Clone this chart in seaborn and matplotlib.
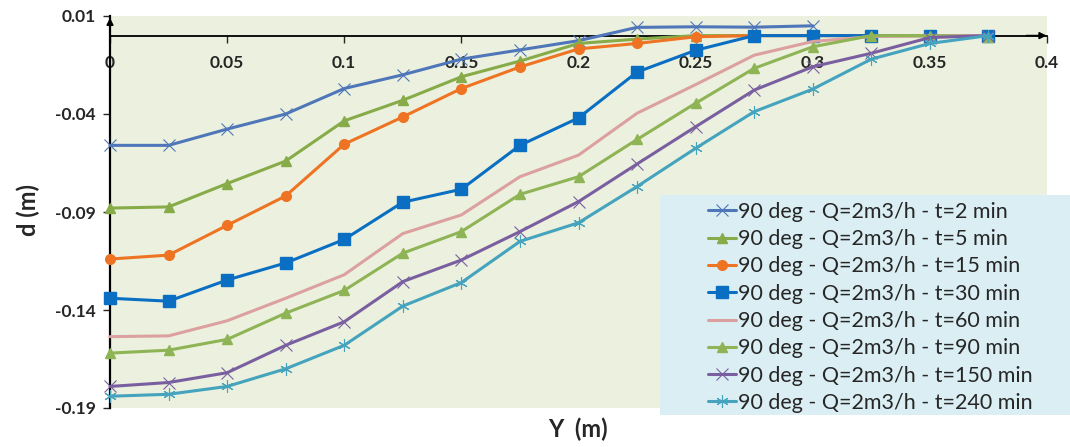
import numpy as np
import pandas as pd
import seaborn as sns
import matplotlib
matplotlib.use("Agg")
import matplotlib.pyplot as plt
from matplotlib.patches import Rectangle

# Transverse position Y (m) of each measuring station
y_pos = [0.0, 0.025, 0.05, 0.075, 0.1, 0.125, 0.15, 0.175, 0.2,
         0.225, 0.25, 0.275, 0.3, 0.325, 0.35, 0.375]

# Scour depth d (m) at each station, one profile per elapsed time
d_t2 = [-0.056, -0.056, -0.0477, -0.040, -0.027, -0.020, -0.012, -0.0073,
        -0.0026, 0.0042, 0.0045, 0.0043, 0.005]
d_t5 = [-0.088, -0.0874, -0.0755, -0.064, -0.0435, -0.033, -0.021, -0.013,
        -0.004, -0.0018, 0.0, 0.0, 0.0, 0.0, 0.0, 0.0]
d_t15 = [-0.114, -0.112, -0.0968, -0.0818, -0.0554, -0.0415, -0.027, -0.016,
         -0.0068, -0.004, -0.0006, 0.0, 0.0, 0.0, 0.0, 0.0]
d_t30 = [-0.134, -0.1355, -0.1247, -0.116, -0.104, -0.085, -0.0784, -0.056,
         -0.042, -0.0186, -0.0075, 0.0, 0.0, 0.0, 0.0, 0.0]
d_t60 = [-0.1536, -0.1532, -0.1455, -0.134, -0.122, -0.101, -0.0915, -0.072,
         -0.061, -0.0396, -0.025, -0.010, -0.003, -0.0005, 0.0, 0.0]
d_t90 = [-0.162, -0.1605, -0.155, -0.1416, -0.130, -0.111, -0.100, -0.081,
         -0.072, -0.053, -0.0345, -0.0167, -0.0057, 0.0, 0.0, -0.0005]
d_t150 = [-0.179, -0.177, -0.172, -0.158, -0.146, -0.1255, -0.1145, -0.100,
          -0.0847, -0.0655, -0.0465, -0.0278, -0.0159, -0.009, -0.001, 0.0]
d_t240 = [-0.184, -0.183, -0.179, -0.170, -0.158, -0.138, -0.126, -0.105,
          -0.0955, -0.077, -0.0575, -0.0388, -0.0273, -0.012, -0.004, 0.0]

labels = [
    "90 deg - Q=2m3/h - t=2 min",
    "90 deg - Q=2m3/h - t=5 min",
    "90 deg - Q=2m3/h - t=15 min",
    "90 deg - Q=2m3/h - t=30 min",
    "90 deg - Q=2m3/h - t=60 min",
    "90 deg - Q=2m3/h - t=90 min",
    "90 deg - Q=2m3/h - t=150 min",
    "90 deg - Q=2m3/h - t=240 min",
]
profiles = [d_t2, d_t5, d_t15, d_t30, d_t60, d_t90, d_t150, d_t240]

colors = ["#4F76B8", "#86AB48", "#EE7424", "#0A6FC2",
          "#DDA0A0", "#8FB455", "#7A5FA0", "#45A3BE"]
markers = ["x", "^", "o", "s", None, "^", "x", (6, 2, 0)]
msizes = [8, 7, 7, 8.5, 0, 7, 8, 9]
mews = [0.8, 1.0, 1.0, 1.0, 0, 1.0, 0.8, 0.8]

x_ticks = [0, 0.05, 0.1, 0.15, 0.2, 0.25, 0.3, 0.35, 0.4]
x_ticklabels = ["0", "0.05", "0.1", "0.15", "0.2", "0.25", "0.3", "0.35", "0.4"]
y_ticks = [0.01, -0.04, -0.09, -0.14, -0.19]
y_ticklabels = ["0.01", "-0.04", "-0.09", "-0.14", "-0.19"]

sns.set_style("white")
plt.rcParams["font.family"] = ["Lato", "DejaVu Sans"]

fig = plt.figure(figsize=(10.70, 4.47), dpi=100)
ax = fig.add_axes([110 / 1070, 1 - 408 / 447, 937 / 1070, 392 / 447])
ax.set_facecolor("#EBF1DE")

for d, lab, c, m, ms, mew in zip(profiles, labels, colors, markers, msizes, mews):
    df = pd.DataFrame({"Y": y_pos[:len(d)], "d": d})
    sns.lineplot(data=df, x="Y", y="d", ax=ax, color=c, lw=2.2,
                 marker=m, markersize=ms, markeredgewidth=mew,
                 markeredgecolor=c, label=lab, legend=False,
                 clip_on=False, zorder=3)

ax.set_xlim(0, 0.4)
ax.set_ylim(-0.19, 0.01)

# x-axis drawn along d = 0, y-axis on the left
for s in ["top", "right"]:
    ax.spines[s].set_visible(False)
ax.spines["bottom"].set_position(("data", 0))
ax.spines["bottom"].set_color("black")
ax.spines["bottom"].set_linewidth(1.3)
ax.spines["bottom"].set_zorder(2)
ax.spines["left"].set_color("black")
ax.spines["left"].set_linewidth(1.6)

ax.set_xticks(x_ticks, x_ticklabels)
ax.set_yticks(y_ticks, y_ticklabels)
ax.tick_params(axis="x", direction="out", length=5, width=1, pad=9,
               labelsize=12.5, bottom=True)
ax.tick_params(axis="y", direction="out", length=5, width=1, pad=5,
               labelsize=12.5, left=True)
for t in ax.get_xticklabels() + ax.get_yticklabels():
    t.set_fontweight("bold")
ax.grid(False)

# arrow heads at the ends of both axes
ax.annotate("", xy=(0.401, 0), xytext=(0.39, 0),
            arrowprops=dict(arrowstyle="-|>", color="black", lw=1.2,
                            mutation_scale=10), annotation_clip=False)
ax.annotate("", xy=(0, 0.0105), xytext=(0, 0.004),
            arrowprops=dict(arrowstyle="-|>", color="black", lw=1.2,
                            mutation_scale=10), annotation_clip=False)

ax.set_xlabel("")
ax.set_ylabel("")
fig.text(28 / 1070, 1 - 210 / 447, "d (m)", rotation=90, fontsize=17,
         fontweight="bold", ha="center", va="center")
fig.text(578 / 1070, 1 - 429 / 447, "Y  (m)", fontsize=17,
         fontweight="bold", ha="center", va="center")

# legend panel
fig.patches.append(Rectangle((660 / 1070, 1 - 415 / 447), 410 / 1070, 220 / 447,
                             transform=fig.transFigure, facecolor="#DAEEF3",
                             edgecolor="none", zorder=4))
handles, labs = ax.get_legend_handles_labels()
leg = fig.legend(handles, labs, loc="upper left",
                 bbox_to_anchor=(697 / 1070, 1 - 191 / 447),
                 frameon=False, fontsize=15.5, labelspacing=0.34,
                 handlelength=1.3, handletextpad=0.1, borderpad=0.0)
leg.set_zorder(5)
for line in leg.get_lines():
    line.set_linewidth(2.2)

fig.savefig("out.png", dpi=100)
